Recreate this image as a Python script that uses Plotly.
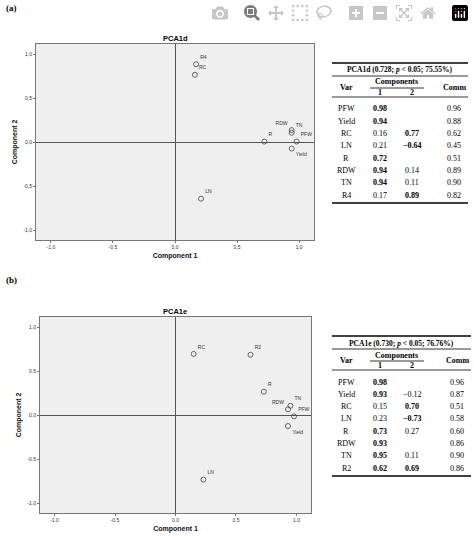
import plotly.graph_objects as go

W, H = 474, 538

# panel (a) data
vars_a = ["PFW", "Yield", "RC", "LN", "R", "RDW", "TN", "R4"]
c1_a = [0.98, 0.94, 0.16, 0.21, 0.72, 0.94, 0.94, 0.17]
c2_a = [None, None, 0.77, -0.64, None, 0.14, 0.11, 0.89]
comm_a = [0.96, 0.88, 0.62, 0.45, 0.51, 0.89, 0.90, 0.82]
# plotted positions (blank loadings are shown near zero)
px_a = [0.98, 0.94, 0.16, 0.21, 0.72, 0.94, 0.94, 0.17]
py_a = [0.01, -0.07, 0.77, -0.64, 0.01, 0.14, 0.11, 0.89]
pos_a = ["top right", "bottom right", "top right", "top right", "top right",
         "top left", "top right", "top right"]

# panel (b) data
vars_b = ["PFW", "Yield", "RC", "LN", "R", "RDW", "TN", "R2"]
c1_b = [0.98, 0.93, 0.15, 0.23, 0.73, 0.93, 0.95, 0.62]
c2_b = [None, -0.12, 0.70, -0.73, 0.27, None, 0.11, 0.69]
comm_b = [0.96, 0.87, 0.51, 0.58, 0.60, 0.86, 0.90, 0.86]
px_b = [0.98, 0.93, 0.15, 0.23, 0.73, 0.93, 0.95, 0.62]
py_b = [-0.01, -0.12, 0.70, -0.73, 0.27, 0.07, 0.11, 0.69]
pos_b = ["top right", "bottom right", "top right", "top right", "top right",
         "top left", "top right", "top right"]

ticks = [-1.0, -0.5, 0.0, 0.5, 1.0]
ticktext_a = ["-1,0", "-0,5", "0,0", "0,5", "1,0"]
ticktext_b = ["-1.0", "-0.5", "0.0", "0.5", "1.0"]

def py(y):
    return 1 - y / H

def px(x):
    return x / W

fig = go.Figure()
fig.add_trace(go.Scatter(x=px_a, y=py_a, text=vars_a, textposition=pos_a, mode="markers+text",
                         marker=dict(symbol="circle-open", size=5, color="#444", line=dict(width=0.8)),
                         textfont=dict(size=5, color="#333", family="Arial"),
                         xaxis="x", yaxis="y", showlegend=False))
fig.add_trace(go.Scatter(x=px_b, y=py_b, text=vars_b, textposition=pos_b, mode="markers+text",
                         marker=dict(symbol="circle-open", size=5, color="#444", line=dict(width=0.8)),
                         textfont=dict(size=5, color="#333", family="Arial"),
                         xaxis="x2", yaxis="y2", showlegend=False))

axis_common = dict(range=[-1.12, 1.12], tickvals=ticks, showgrid=False, zeroline=True,
                   zerolinecolor="#555", zerolinewidth=1.3, showline=True, mirror=True,
                   linecolor="#777", linewidth=1, ticks="outside", ticklen=2, tickcolor="#777",
                   tickfont=dict(size=5, color="#333", family="Arial"))
yr = dict(axis_common, range=[-1.11, 1.12])
tfont = dict(size=7, family="Arial", color="#111")

fig.update_layout(
    width=W, height=H, margin=dict(l=0, r=0, t=0, b=0),
    paper_bgcolor="white", plot_bgcolor="#efefef",
    xaxis=dict(axis_common, domain=[px(36), px(314)], anchor="y", ticktext=ticktext_a,
               title=dict(text="<b>Component 1</b>", font=tfont, standoff=4)),
    yaxis=dict(yr, domain=[py(240), py(44)], anchor="x", ticktext=ticktext_a,
               title=dict(text="<b>Component 2</b>", font=tfont, standoff=4)),
    xaxis2=dict(axis_common, domain=[px(40), px(311)], anchor="y2", ticktext=ticktext_b,
                title=dict(text="<b>Component 1</b>", font=tfont, standoff=4)),
    yaxis2=dict(yr, domain=[py(513), py(317)], anchor="x2", ticktext=ticktext_b,
                title=dict(text="<b>Component 2</b>", font=tfont, standoff=4)),
)

ann = []
shapes = []

def txt(x, y, s, size=8, bold=False, family="Liberation Serif", anchor="center"):
    ann.append(dict(x=px(x), y=py(y), xref="paper", yref="paper", text=f"<b>{s}</b>" if bold else s,
                    showarrow=False, xanchor=anchor, yanchor="middle",
                    font=dict(size=size, family=family, color="black")))

def hline(x0, x1, y, w=1):
    shapes.append(dict(type="line", xref="paper", yref="paper", x0=px(x0), x1=px(x1),
                       y0=py(y), y1=py(y), line=dict(color="black", width=w)))

txt(4, 8, "(a)", 9, True, anchor="left")
txt(4, 280, "(b)", 9, True, anchor="left")
txt(175, 39, "PCA1d", 7.5, True, "Arial")
txt(175, 311, "PCA1e", 7.5, True, "Arial")

def fmt(v):
    return f"{v:.2f}".replace("-", "\u2212")

def table(dy, x0, x1, title, names, c1, c2, comm):
    cv, cc1, cc2, ccm = x0 + 14, x0 + 48, x0 + 80, x1 - 14
    hline(x0, x1, 63 + dy, 1.5)
    txt((x0 + x1) / 2, 70 + dy, title, 7.5, True)
    hline(x0, x1, 76 + dy, 0.8)
    txt(cv, 87 + dy, "Var", 8, True)
    txt((cc1 + cc2) / 2, 82 + dy, "Components", 8, True)
    hline(cc1 - 10, cc2 + 12, 88 + dy, 0.8)
    txt(cc1, 92 + dy, "1", 8, True)
    txt(cc2, 92 + dy, "2", 8, True)
    txt(ccm, 87 + dy, "Comm", 8, True)
    hline(x0, x1, 97 + dy, 0.8)
    for i, n in enumerate(names):
        y = 109 + dy + i * 12.3
        txt(cv, y, n)
        txt(cc1, y, fmt(c1[i]), bold=abs(c1[i]) >= 0.5)
        if c2[i] is not None:
            txt(cc2, y, fmt(c2[i]), bold=abs(c2[i]) >= 0.5)
        txt(ccm, y, fmt(comm[i]))
    hline(x0, x1, 203 + dy, 1.5)

table(0, 332, 468, "PCA1d (0.728; <i>p</i> < 0.05; 75.55%)", vars_a, c1_a, c2_a, comm_a)
table(273, 332, 471, "PCA1e (0.730; <i>p</i> < 0.05; 76.76%)", vars_b, c1_b, c2_b, comm_b)

fig.update_layout(annotations=ann, shapes=shapes)
fig.write_html("out.html",
               post_script="document.body.style.margin='0';document.body.style.overflow='hidden';")
